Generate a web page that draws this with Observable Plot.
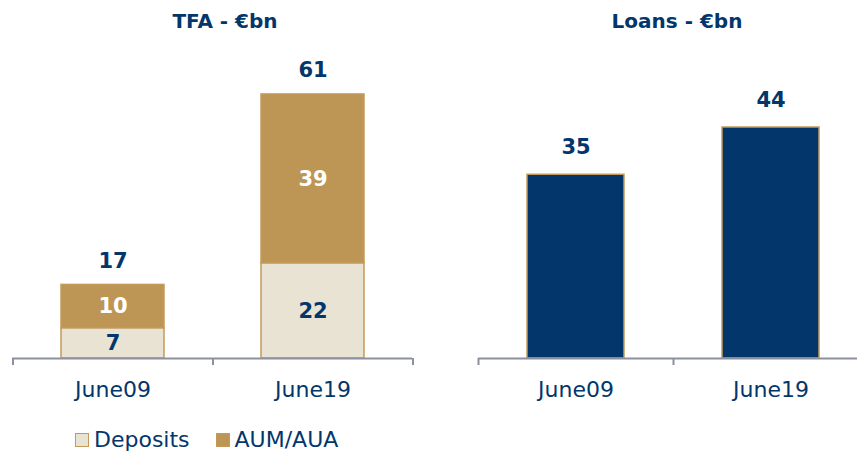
<!DOCTYPE html>
<html>
<head>
<meta charset="utf-8">
<script src="https://cdn.jsdelivr.net/npm/d3@7"></script>
<script src="https://cdn.jsdelivr.net/npm/@observablehq/plot@0.6"></script>
<style>
  html, body { margin: 0; padding: 0; background: #fff; }
  body { width: 857px; height: 456px; overflow: hidden; }
  #wrap { position: relative; width: 857px; height: 456px; overflow: hidden; font-family: "DejaVu Sans", sans-serif; color: #03366a; }
  .panel { position: absolute; top: 0; height: 456px; }
  .panel svg { max-width: none !important; }
  .title { position: absolute; top: 9px; font-weight: bold; font-size: 20px; transform: translateX(-50%); white-space: nowrap; }
  #legend { position: absolute; top: 427px; left: 75px; display: flex; align-items: center; font-size: 22px; white-space: nowrap; }
  .sw { width: 12px; height: 12px; border: 1.5px solid #c49a5c; margin-right: 5px; }
</style>
</head>
<body>
<div id="wrap">
  <div class="title" style="left:225px">TFA - €bn</div>
  <div class="title" style="left:677px">Loans - €bn</div>
  <div class="panel" id="left" style="left:0px; width:430px"></div>
  <div class="panel" id="right" style="left:460px; width:420px"></div>
  <div id="legend"></div>
</div>
<script>
const periods = ["June09", "June19"];
const seriesNames = ["Deposits", "AUM/AUA"];
const deposits = [7, 22];
const aum = [10, 39];
const tfaTotals = [17, 61];
const loans = [35, 44];

const navy = "#03366a";
const gold = "#bd9656";
const beige = "#e8e3d3";
const border = "#c49a5c";
const axisGray = "#8c90a0";
const font = "DejaVu Sans, sans-serif";

const tfa = [];
periods.forEach((p, i) => {
  tfa.push({period: p, series: seriesNames[0], value: deposits[i]});
  tfa.push({period: p, series: seriesNames[1], value: aum[i]});
});
const tfaTot = periods.map((p, i) => ({period: p, total: tfaTotals[i]}));
const loanData = periods.map((p, i) => ({period: p, value: loans[i]}));

function frameMarks(step) {
  return [
    Plot.ruleY([0], {stroke: axisGray, strokeWidth: 2}),
    Plot.ruleX(periods, {x: d => d, y1: 0, y2: 0, dx: -step / 2, insetBottom: -7, stroke: axisGray, strokeWidth: 2}),
    Plot.ruleX(periods.slice(-1), {x: d => d, y1: 0, y2: 0, dx: step / 2, insetBottom: -7, stroke: axisGray, strokeWidth: 2}),
    Plot.text(periods, {x: d => d, y: 0, dy: 31, text: d => d, fill: navy, fontSize: 22, fontFamily: font})
  ];
}

const left = Plot.plot({
  width: 430, height: 456,
  marginLeft: 12, marginRight: 18, marginTop: 55, marginBottom: 98,
  style: {fontFamily: font, overflow: "visible", background: "transparent", maxWidth: "none"},
  x: {domain: periods, paddingInner: 0.485, paddingOuter: 0.2425, axis: null},
  y: {domain: [0, 70], axis: null},
  color: {domain: seriesNames, range: [beige, gold]},
  marks: [
    Plot.barY(tfa, {x: "period", y: "value", fill: "series", stroke: border, strokeWidth: 1.5}),
    Plot.text(tfa.filter(d => d.series === "Deposits"), Plot.stackY({x: "period", y: "value", text: "value",
      fill: navy, fontSize: 21, fontWeight: "bold", fontFamily: font})),
    Plot.text(tfa, Plot.stackY({x: "period", y: "value", z: "series", text: d => d.series === "AUM/AUA" ? d.value : "",
      fill: "white", fontSize: 21, fontWeight: "bold", fontFamily: font})),
    Plot.text(tfaTot, {x: "period", y: "total", dy: -24, text: "total", fill: navy, fontSize: 21, fontWeight: "bold", fontFamily: font}),
    ...frameMarks(200)
  ]
});
document.getElementById("left").appendChild(left);

const right = Plot.plot({
  width: 420, height: 456,
  marginLeft: 18, marginRight: 12, marginTop: 95.5, marginBottom: 98,
  style: {fontFamily: font, overflow: "visible", background: "transparent", maxWidth: "none"},
  x: {domain: periods, paddingInner: 0.503, paddingOuter: 0.2515, axis: null},
  y: {domain: [0, 50], axis: null},
  marks: [
    Plot.barY(loanData, {x: "period", y: "value", fill: navy, stroke: border, strokeWidth: 1.5}),
    Plot.text(loanData, {x: "period", y: "value", dy: -27, text: "value", fill: navy, fontSize: 21, fontWeight: "bold", fontFamily: font}),
    ...frameMarks(195)
  ]
});
document.getElementById("right").appendChild(right);

const legend = document.getElementById("legend");
seriesNames.forEach((s, i) => {
  const sw = document.createElement("span");
  sw.className = "sw";
  sw.style.background = i === 0 ? beige : gold;
  if (i > 0) sw.style.marginLeft = "26px";
  const t = document.createElement("span");
  t.textContent = s;
  legend.appendChild(sw);
  legend.appendChild(t);
});
</script>
</body>
</html>
